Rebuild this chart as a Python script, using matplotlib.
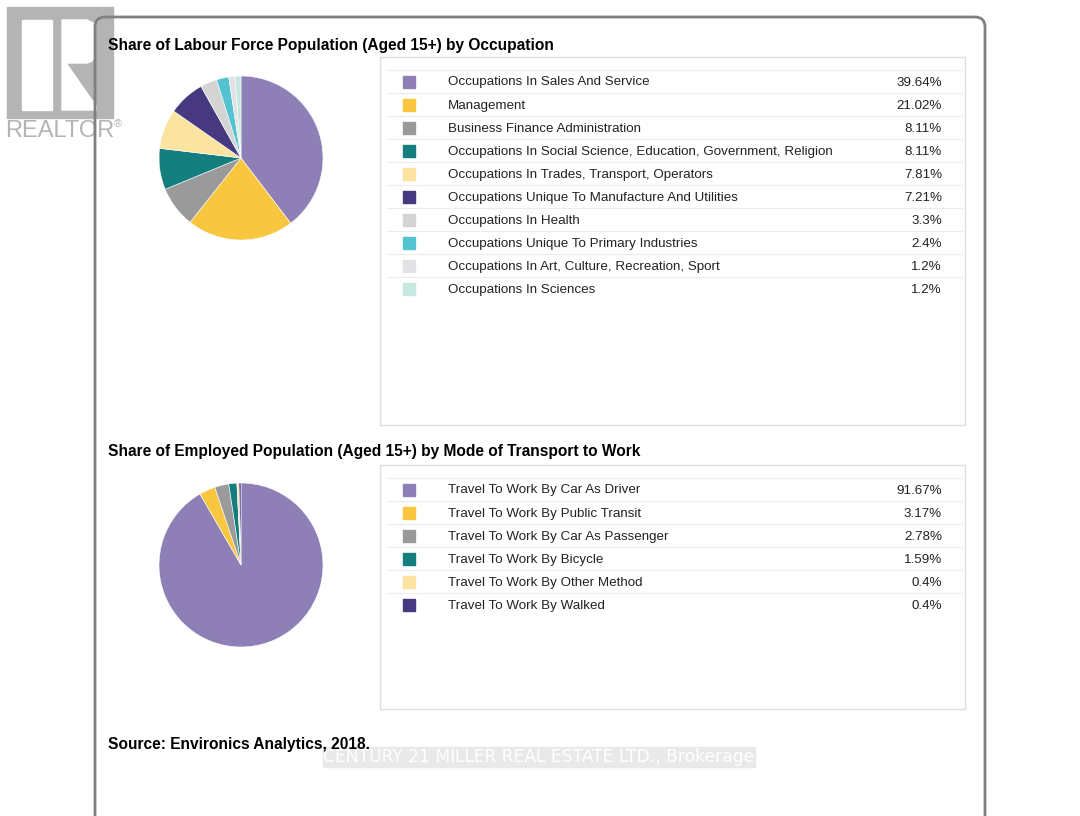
import matplotlib
matplotlib.use('Agg')
import matplotlib.pyplot as plt
from matplotlib.patches import FancyBboxPatch, Rectangle, Polygon

plt.rcParams['font.family'] = ['Liberation Sans', 'DejaVu Sans']

# occupation data
occ_labels = ['Occupations In Sales And Service', 'Management', 'Business Finance Administration',
              'Occupations In Social Science, Education, Government, Religion',
              'Occupations In Trades, Transport, Operators',
              'Occupations Unique To Manufacture And Utilities', 'Occupations In Health',
              'Occupations Unique To Primary Industries',
              'Occupations In Art, Culture, Recreation, Sport', 'Occupations In Sciences']
occ_values = [39.64, 21.02, 8.11, 8.11, 7.81, 7.21, 3.3, 2.4, 1.2, 1.2]
occ_colors = ['#8e80b6', '#f9c640', '#9a9a9a', '#147d7d', '#fbe4a0', '#47397f',
              '#d4d4d4', '#52c3cf', '#e2e2e6', '#c6e8df']

# transport data
tr_labels = ['Travel To Work By Car As Driver', 'Travel To Work By Public Transit',
             'Travel To Work By Car As Passenger', 'Travel To Work By Bicycle',
             'Travel To Work By Other Method', 'Travel To Work By Walked']
tr_values = [91.67, 3.17, 2.78, 1.59, 0.4, 0.4]
tr_colors = occ_colors[:6]

W, H = 1080, 816
fig = plt.figure(figsize=(W / 100, H / 100), dpi=100)
ax = fig.add_axes([0, 0, 1, 1])
ax.set_xlim(0, W)
ax.set_ylim(H, 0)
ax.axis('off')

# realtor logo
logo_grey = '#b4b4b4'
ax.add_patch(Rectangle((7, 7), 106, 111, color=logo_grey, zorder=1))
ax.add_patch(Rectangle((22, 20), 30, 90, color='white', zorder=2))
ax.add_patch(Polygon([(62, 20), (87, 20), (93, 23), (95, 29), (95, 56), (92, 61), (87, 63),
                      (66, 63), (96, 106), (96, 110), (62, 110)],
                     closed=True, color='white', zorder=2))
ax.text(5, 131, 'REALTOR', fontsize=17, color=logo_grey, va='center', ha='left', zorder=2)
ax.text(114, 124, '®', fontsize=8, color=logo_grey, va='center', ha='left', zorder=2)

# card
card = FancyBboxPatch((95, 17), 890, 850, boxstyle='round,pad=0,rounding_size=10',
                      fc='none', ec='#808080', lw=2, zorder=5)
ax.add_patch(card)

title_kw = dict(fontsize=11.2, fontweight='bold', color='black', va='center', ha='left', zorder=8)
ax.text(108, 45.5, 'Share of Labour Force Population (Aged 15+) by Occupation', **title_kw)
ax.text(108, 451.5, 'Share of Employed Population (Aged 15+) by Mode of Transport to Work', **title_kw)
ax.text(108, 744.5, 'Source: Environics Analytics, 2018.', **title_kw)

# watermark
ax.add_patch(Rectangle((323, 747), 432, 20, color='#e9e9e9', zorder=6))
ax.text(539, 757.5, 'CENTURY 21 MILLER REAL ESTATE LTD., Brokerage', fontsize=12.3,
        color='white', ha='center', va='center', family='DejaVu Sans', zorder=7)


def legend_box(top, bottom, labels, values, colors):
    ax.add_patch(Rectangle((380, top), 585, bottom - top, fc='white', ec='#dedede', lw=1, zorder=3))
    y0 = top + 24
    for i, (lab, val, col) in enumerate(zip(labels, values, colors)):
        y = y0 + i * 23.1
        ax.plot([387, 962], [y - 11.5, y - 11.5], color='#ececec', lw=0.8, zorder=4)
        ax.add_patch(Rectangle((403, y - 5.5), 12, 12, color=col, zorder=4))
        ax.text(448, y + 1.5, lab, fontsize=9.6, color='#222222', va='center', ha='left', zorder=4)
        ax.text(942, y + 1.5, f'{val:g}%', fontsize=9.6, color='#222222', va='center', ha='right', zorder=4)


legend_box(57, 425, occ_labels, occ_values, occ_colors)
legend_box(465, 709, tr_labels, tr_values, tr_colors)


def pie_at(cx, cy, r, values, colors):
    pax = fig.add_axes([(cx - r) / W, 1 - (cy + r) / H, 2 * r / W, 2 * r / H])
    pax.pie(values, colors=colors, startangle=90, counterclock=False,
            wedgeprops=dict(edgecolor='white', linewidth=0.4))
    pax.set_aspect('equal')
    pax.set_xlim(-1, 1)
    pax.set_ylim(-1, 1)
    pax.axis('off')


pie_at(241, 158, 82, occ_values, occ_colors)
pie_at(241, 565, 82, tr_values, tr_colors)

fig.savefig('out.png', dpi=100)
